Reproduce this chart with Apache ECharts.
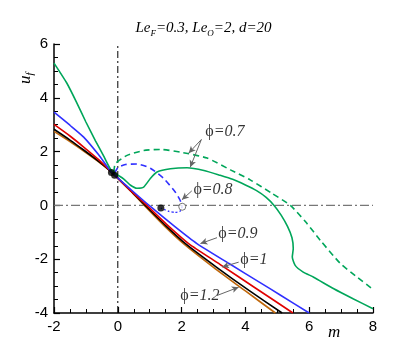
<!DOCTYPE html>
<html>
<head>
<meta charset="utf-8">
<script src="https://cdn.jsdelivr.net/npm/echarts@6/dist/echarts.min.js"></script>
<style>
  html, body { margin: 0; padding: 0; background: #fff; }
  #chart { width: 407px; height: 349px; }
</style>
</head>
<body>
<div id="chart"></div>
<script>
// curves, [m, u_f]
const phi12 = [[-2, 2.75], [-1.5, 2.37], [-1.07, 2.02], [-0.6, 1.62], [-0.2, 1.24], [0.4, 0.54], [0.83, 0], [1.45, -0.75], [2.06, -1.42], [3.0, -2.3], [4.0, -3.18], [4.94, -4.0]]
const phi11 = [[-2, 2.83], [-1.5, 2.43], [-1.07, 2.06], [-0.6, 1.64], [-0.2, 1.24], [0.4, 0.55], [0.86, 0], [1.5, -0.75], [2.12, -1.42], [3.1, -2.3], [4.1, -3.15], [5.15, -4.0]]
const phi1 = [[-2, 3.01], [-1.5, 2.58], [-1.07, 2.17], [-0.6, 1.7], [-0.2, 1.24], [0.4, 0.55], [0.91, 0], [1.6, -0.78], [2.22, -1.42], [3.2, -2.19], [4.3, -3.06], [5.49, -4.0]]
const phi09 = [[-2, 3.47], [-1.5, 2.98], [-1.07, 2.54], [-0.6, 1.88], [-0.2, 1.24], [0.4, 0.6], [1.02, -0.04], [1.8, -0.8], [2.48, -1.42], [3.5, -2.17], [4.5, -2.9], [5.09, -3.33], [6.0, -4.0]]
const phi08Dash = [[-0.1, 1.2], [0.0, 1.4], [0.24, 1.52], [0.6, 1.54], [1.02, 1.38], [1.44, 1.0], [1.8, 0.5], [1.95, 0.2], [2.02, -0.04]]
const phi08Dot = [[2.02, -0.04], [1.95, -0.22], [1.8, -0.26], [1.6, -0.22], [1.45, -0.15], [1.35, -0.1]]
const phi07 = [[-2, 5.29], [-1.6, 4.55], [-1.3, 3.85], [-1.0, 3.1], [-0.7, 2.4], [-0.45, 1.85], [-0.2, 1.3], [0.18, 0.99], [0.4, 0.75], [0.6, 0.64], [0.81, 0.68], [1.02, 1.0], [1.23, 1.24], [1.65, 1.36], [2.17, 1.4], [2.7, 1.3], [3.21, 1.12], [3.6, 0.97], [4.0, 0.76], [4.35, 0.55], [4.65, 0.3], [4.9, 0.0], [5.12, -0.36], [5.32, -0.78], [5.46, -1.2], [5.5, -1.6], [5.47, -1.92], [5.56, -2.23], [5.8, -2.47], [6.14, -2.67], [6.77, -3.1], [7.39, -3.48], [8.0, -3.84]]
const phi07Dash = [[-0.12, 1.25], [-0.08, 1.55], [0.29, 1.86], [0.81, 2.04], [1.33, 2.08], [1.96, 1.98], [2.8, 1.76], [3.53, 1.32], [4.15, 0.95], [4.83, 0.45], [5.41, 0.0], [5.9, -0.63], [6.35, -1.3], [6.97, -2.15], [7.45, -2.62], [8.0, -3.12]]
const solidDots = [[-0.2, 1.22], [-0.1, 1.12], [1.35, -0.1]]
const openDots = [[2.02, -0.05]]

// annotation text: [m, u_f, value]
const notes = [[2.74, 2.75, '0.7'], [2.37, 0.59, '0.8'], [3.15, -1.04, '0.9'], [3.84, -2.04, '1'], [1.96, -3.35, '1.2']]
const arrows = [
  [[2.62, 2.45], [2.22, 1.94]],
  [[2.62, 2.45], [2.27, 1.42]],
  [[2.32, 0.54], [2.01, 0.21]],
  [[3.11, -1.2], [2.59, -1.42]],
  [[3.79, -2.11], [3.27, -2.29]],
  [[3.11, -3.35], [3.79, -3.04]]
]

const xTicks = { min: -2, max: 8, interval: 2 }
const yTicks = { min: -4, max: 6, interval: 2 }

const serif = 'Liberation Serif, DejaVu Serif, serif'
const sans = 'Liberation Sans, Arial, sans-serif'
const green = '#00a65a'
const blue = '#3030ff'

function curve(data, color, type, width) {
  return {
    type: 'line',
    data: data,
    showSymbol: false,
    symbol: 'none',
    smooth: 0.2,
    lineStyle: { color: color, width: width || 1.6, type: type || 'solid' },
    z: 3
  }
}

const chart = echarts.init(document.getElementById('chart'))
chart.setOption({
  animation: false,
  backgroundColor: '#fff',
  title: {
    text: '{n|Le}{s|F}{n|=0.3, Le}{s|O}{n|=2, d=20}',
    left: 'center',
    top: 13,
    textStyle: {
      fontWeight: 'normal',
      rich: {
        n: { fontFamily: serif, fontStyle: 'italic', fontWeight: 'normal', fontSize: 15, color: '#000', lineHeight: 20, verticalAlign: 'middle' },
        s: { fontFamily: serif, fontStyle: 'italic', fontWeight: 'normal', fontSize: 9, color: '#000', lineHeight: 20, verticalAlign: 'bottom', padding: [8, 0, 0, 0] }
      }
    }
  },
  grid: { left: 54, right: 34, top: 44, bottom: 36 },
  xAxis: {
    type: 'value',
    min: xTicks.min,
    max: xTicks.max,
    interval: xTicks.interval,
    axisLine: { onZero: false, lineStyle: { color: '#000', width: 1.5 } },
    axisTick: { inside: true, length: 6, lineStyle: { color: '#000', width: 1.2 } },
    minorTick: { show: true, splitNumber: 4, length: 4, lineStyle: { color: '#000', width: 1 } },
    splitLine: { show: false },
    axisLabel: { color: '#000', fontFamily: sans, fontSize: 15, margin: 6 }
  },
  yAxis: {
    type: 'value',
    min: yTicks.min,
    max: yTicks.max,
    interval: yTicks.interval,
    axisLine: { show: true, onZero: false, lineStyle: { color: '#000', width: 1.5 } },
    axisTick: { show: true, inside: true, length: 6, lineStyle: { color: '#000', width: 1.2 } },
    minorTick: { show: true, splitNumber: 4, length: 4, lineStyle: { color: '#000', width: 1 } },
    splitLine: { show: false },
    axisLabel: { color: '#000', fontFamily: sans, fontSize: 15, margin: 6 }
  },
  graphic: [
    {
      type: 'text', left: 328, top: 324,
      style: { text: 'm', font: 'italic 17px ' + serif, fill: '#000' }
    },
    {
      type: 'text', x: 16, y: 84, rotation: Math.PI / 2,
      style: {
        text: '{n|u}{s|f}',
        rich: {
          n: { fontFamily: serif, fontStyle: 'italic', fontSize: 17, fill: '#000', lineHeight: 20 },
          s: { fontFamily: serif, fontStyle: 'italic', fontSize: 11, fill: '#000', lineHeight: 20, padding: [8, 0, 0, 0] }
        }
      }
    }
  ],
  series: [
    {
      type: 'line', data: [[0, yTicks.min], [0, yTicks.max]], symbol: 'none', silent: true,
      lineStyle: { color: '#000', width: 1, type: [7, 3, 2, 3] }, z: 1
    },
    {
      type: 'line', data: [[xTicks.min, 0], [xTicks.max, 0]], symbol: 'none', silent: true,
      lineStyle: { color: '#777', width: 1.3, type: [9, 3, 2, 3] }, z: 1
    },
    curve(phi12, '#c0670a'),
    curve(phi11, '#000'),
    curve(phi1, '#e00000'),
    curve(phi09, blue),
    curve(phi08Dash, blue, [6, 4]),
    curve(phi08Dot, blue, [2, 2], 1.4),
    curve(phi07, green),
    curve(phi07Dash, green, [6, 4]),
    {
      type: 'scatter', data: solidDots, symbol: 'circle', symbolSize: 7,
      itemStyle: { color: '#000' }, z: 5
    },
    {
      type: 'scatter', data: openDots, symbol: 'circle', symbolSize: 7,
      itemStyle: { color: '#fff', borderColor: '#555', borderWidth: 1 }, z: 5
    },
    {
      type: 'scatter', data: notes, symbolSize: 0, z: 6,
      label: {
        show: true, position: 'right', distance: 0,
        formatter: p => '{p|\u03d5}{v|=' + p.data[2] + '}',
        rich: {
          p: { fontFamily: serif, fontSize: 16, color: '#000' },
          v: { fontFamily: serif, fontStyle: 'italic', fontSize: 16, color: '#000' }
        }
      }
    },
    {
      type: 'line', data: [], z: 4,
      markLine: {
        silent: true, animation: false,
        symbol: ['none', 'arrow'], symbolSize: [5, 7],
        label: { show: false },
        lineStyle: { color: '#666', width: 1, type: 'solid' },
        data: arrows.map(a => [{ coord: a[0] }, { coord: a[1] }])
      }
    }
  ]
})
</script>
</body>
</html>
